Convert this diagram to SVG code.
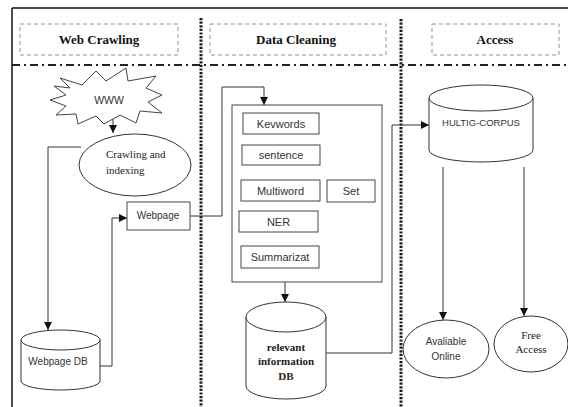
<svg xmlns="http://www.w3.org/2000/svg" width="568" height="407" viewBox="0 0 568 407">
<style>
.hdr{fill:none;stroke:#7f98b3;stroke-width:1;stroke-dasharray:4 3}
.ht{font-family:"Liberation Serif",serif;font-weight:bold;font-size:13px;fill:#111;text-anchor:middle}
.vdot{stroke:#1a1a1a;stroke-width:3;stroke-dasharray:2.2 1.4}
.box{fill:#fff;stroke:#444;stroke-width:1}
.sans{font-family:"Liberation Sans",Arial,sans-serif;fill:#333;text-anchor:middle}
.serif{font-family:"Liberation Serif",serif;fill:#222}
.con{fill:none;stroke:#333;stroke-width:1}
</style>
<defs>
<marker id="ah" viewBox="0 0 10 10" refX="10" refY="5" markerWidth="8" markerHeight="8" markerUnits="userSpaceOnUse" orient="auto">
<path d="M0,0 L10,5 L0,10 Z" fill="#111"/>
</marker>
</defs>
<rect width="568" height="407" fill="#fff"/>
<g id="frame">
<line x1="12" y1="8" x2="568" y2="8" stroke="#111" stroke-width="1.5"/>
<line x1="12" y1="8" x2="12" y2="407" stroke="#111" stroke-width="1.5"/>
<line x1="12" y1="65" x2="568" y2="65" stroke="#222" stroke-width="2.2" stroke-dasharray="8 4 2 4"/>
<line class="vdot" x1="201" y1="18" x2="201" y2="407"/>
<line class="vdot" x1="401" y1="19" x2="401" y2="407"/>
</g>
<g id="hdr-web">
<rect class="hdr" x="20" y="24" width="158" height="31"/>
<text class="ht" x="99" y="44">Web Crawling</text>
</g>
<g id="hdr-clean">
<rect class="hdr" x="210" y="24" width="176" height="31"/>
<text class="ht" x="296" y="44">Data Cleaning</text>
</g>
<g id="hdr-access">
<rect class="hdr" x="432" y="24" width="127" height="31"/>
<text class="ht" x="495" y="44">Access</text>
</g>
<g id="connectors">
<line class="con" x1="113" y1="117" x2="113" y2="133" marker-end="url(#ah)"/>
<path class="con" d="M81,147 H48 V330" marker-end="url(#ah)"/>
<path class="con" d="M97,366 H112 V218 H127" marker-end="url(#ah)"/>
<path class="con" d="M190,216 H222 V87 H264 V105" marker-end="url(#ah)"/>
<line class="con" x1="285" y1="282" x2="285" y2="302" marker-end="url(#ah)"/>
<path class="con" d="M326,353 H392 V125 H429" marker-end="url(#ah)"/>
<line class="con" x1="443" y1="167" x2="443" y2="320" marker-end="url(#ah)"/>
<line class="con" x1="524" y1="167" x2="524" y2="316" marker-end="url(#ah)"/>
</g>
<g id="www">
<path d="M60,78 L82,85 L96,71 L106,81 L126,68 L128,81 L156,76 L146,88 L162,95 L148,102 L162,113 L140,111 L136,123 L120,115 L104,124 L96,116 L78,124 L76,114 L56,115 L66,106 L50,100 L66,95 L54,86 L70,88 Z" fill="#fff" stroke="#444" stroke-width="1"/>
<text class="sans" x="109" y="104" font-size="10.5">WWW</text>
</g>
<g id="crawl">
<ellipse cx="135" cy="165" rx="56" ry="31" fill="#fff" stroke="#333"/>
<text class="serif" x="106" y="158" font-size="11">Crawling and</text>
<text class="serif" x="106" y="174" font-size="11">indexing</text>
</g>
<g id="webpage">
<rect class="box" x="127" y="202" width="63" height="28"/>
<text class="sans" x="158" y="219" font-size="10">Webpage</text>
</g>
<g id="webpagedb">
<path d="M21,340 V381 A39.5,9 0 0 0 100,381 V340" fill="#fff" stroke="#333"/>
<ellipse cx="60.5" cy="340" rx="39.5" ry="10" fill="#fff" stroke="#333"/>
<text class="sans" x="58" y="365" font-size="10">Webpage DB</text>
</g>
<g id="cleanbox">
<rect class="box" x="232" y="105" width="150" height="177"/>
</g>
<g id="kw">
<rect class="box" x="243" y="113" width="76" height="21"/>
<text class="sans" x="281" y="127.5" font-size="11">Kevwords</text>
</g>
<g id="sent">
<rect class="box" x="242" y="145" width="78" height="20"/>
<text class="sans" x="281" y="159" font-size="11">sentence</text>
</g>
<g id="multi">
<rect class="box" x="241" y="180" width="79" height="21"/>
<text class="sans" x="280.5" y="194.5" font-size="11">Multiword</text>
</g>
<g id="set">
<rect class="box" x="327" y="180" width="48" height="22"/>
<text class="sans" x="351" y="194.5" font-size="11">Set</text>
</g>
<g id="ner">
<rect class="box" x="239" y="211" width="79" height="21"/>
<text class="sans" x="278.5" y="225.5" font-size="11">NER</text>
</g>
<g id="summ">
<rect class="box" x="241" y="246" width="78" height="22"/>
<text class="sans" x="280" y="261" font-size="11">Summarizat</text>
</g>
<g id="reldb">
<path d="M246,317 V386 A40,13 0 0 0 326,386 V317" fill="#fff" stroke="#333"/>
<ellipse cx="286" cy="317" rx="40" ry="15" fill="#fff" stroke="#333"/>
<text class="serif" x="286" y="351" font-size="11" font-weight="bold" text-anchor="middle">relevant</text>
<text class="serif" x="286" y="365" font-size="11" font-weight="bold" text-anchor="middle">information</text>
<text class="serif" x="286" y="380" font-size="11" font-weight="bold" text-anchor="middle">DB</text>
</g>
<g id="hultig">
<path d="M429,98 V150 A52,12 0 0 0 533,150 V98" fill="#fff" stroke="#333"/>
<ellipse cx="481" cy="98" rx="52" ry="13" fill="#fff" stroke="#333"/>
<text class="sans" x="481" y="126" font-size="9.5">HULTIG-CORPUS</text>
</g>
<g id="online">
<ellipse cx="446" cy="349" rx="43" ry="29" fill="#fff" stroke="#333"/>
<text class="sans" x="446" y="345" font-size="10">Avaliable</text>
<text class="sans" x="446" y="360" font-size="10">Online</text>
</g>
<g id="free">
<ellipse cx="531" cy="344" rx="37" ry="28" fill="#fff" stroke="#333"/>
<text class="serif" x="531" y="339" font-size="11" text-anchor="middle">Free</text>
<text class="serif" x="531" y="353" font-size="11" text-anchor="middle">Access</text>
</g>
</svg>
